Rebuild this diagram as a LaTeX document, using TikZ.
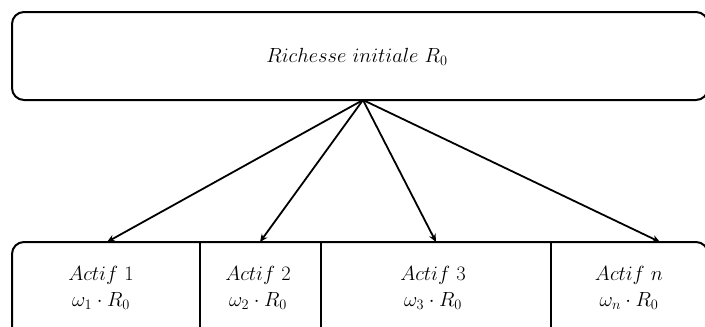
\RequirePackage{fix-cm}
\documentclass[tikz,border=0pt]{standalone}
\usetikzlibrary{arrows.meta}
\begin{document}
\begin{tikzpicture}[x=1pt,y=-1pt,
  boxline/.style={line width=2pt,rounded corners=12pt},
  conn/.style={line width=1.8pt,-{Stealth[length=8pt,width=7pt]}},
  lbl/.style={font=\fontsize{20.5}{25}\selectfont,align=center,inner sep=0pt}]
\clip (0,0) rectangle (705,327);
\fill[white] (0,0) rectangle (705,327);
% top box
\draw[boxline] (12,12) rectangle (708,100);
\node[lbl] (top) at (357,57) {$Richesse\ initiale\ R_0$};
\coordinate (src) at (363,100);
% bottom box
\draw[boxline] (12,242) rectangle (708,345);
\draw[line width=2pt] (200,242) -- (200,330);
\draw[line width=2pt] (321,242) -- (321,330);
\draw[line width=2pt] (551,242) -- (551,330);
\coordinate (t1) at (107,242);
\coordinate (t2) at (260,242);
\coordinate (t3) at (436,242);
\coordinate (t4) at (660,242);
\node[lbl] (a1) at (101,288) {$Actif\ 1$\\[1pt]$\omega_1\cdot R_0$};
\node[lbl] (a2) at (258,288) {$Actif\ 2$\\[1pt]$\omega_2\cdot R_0$};
\node[lbl] (a3) at (433,288) {$Actif\ 3$\\[1pt]$\omega_3\cdot R_0$};
\node[lbl] (a4) at (629,288) {$Actif\ n$\\[1pt]$\omega_n\cdot R_0$};
\foreach \t in {t1,t2,t3,t4} \draw[conn] (src) -- (\t);
\end{tikzpicture}
\end{document}
